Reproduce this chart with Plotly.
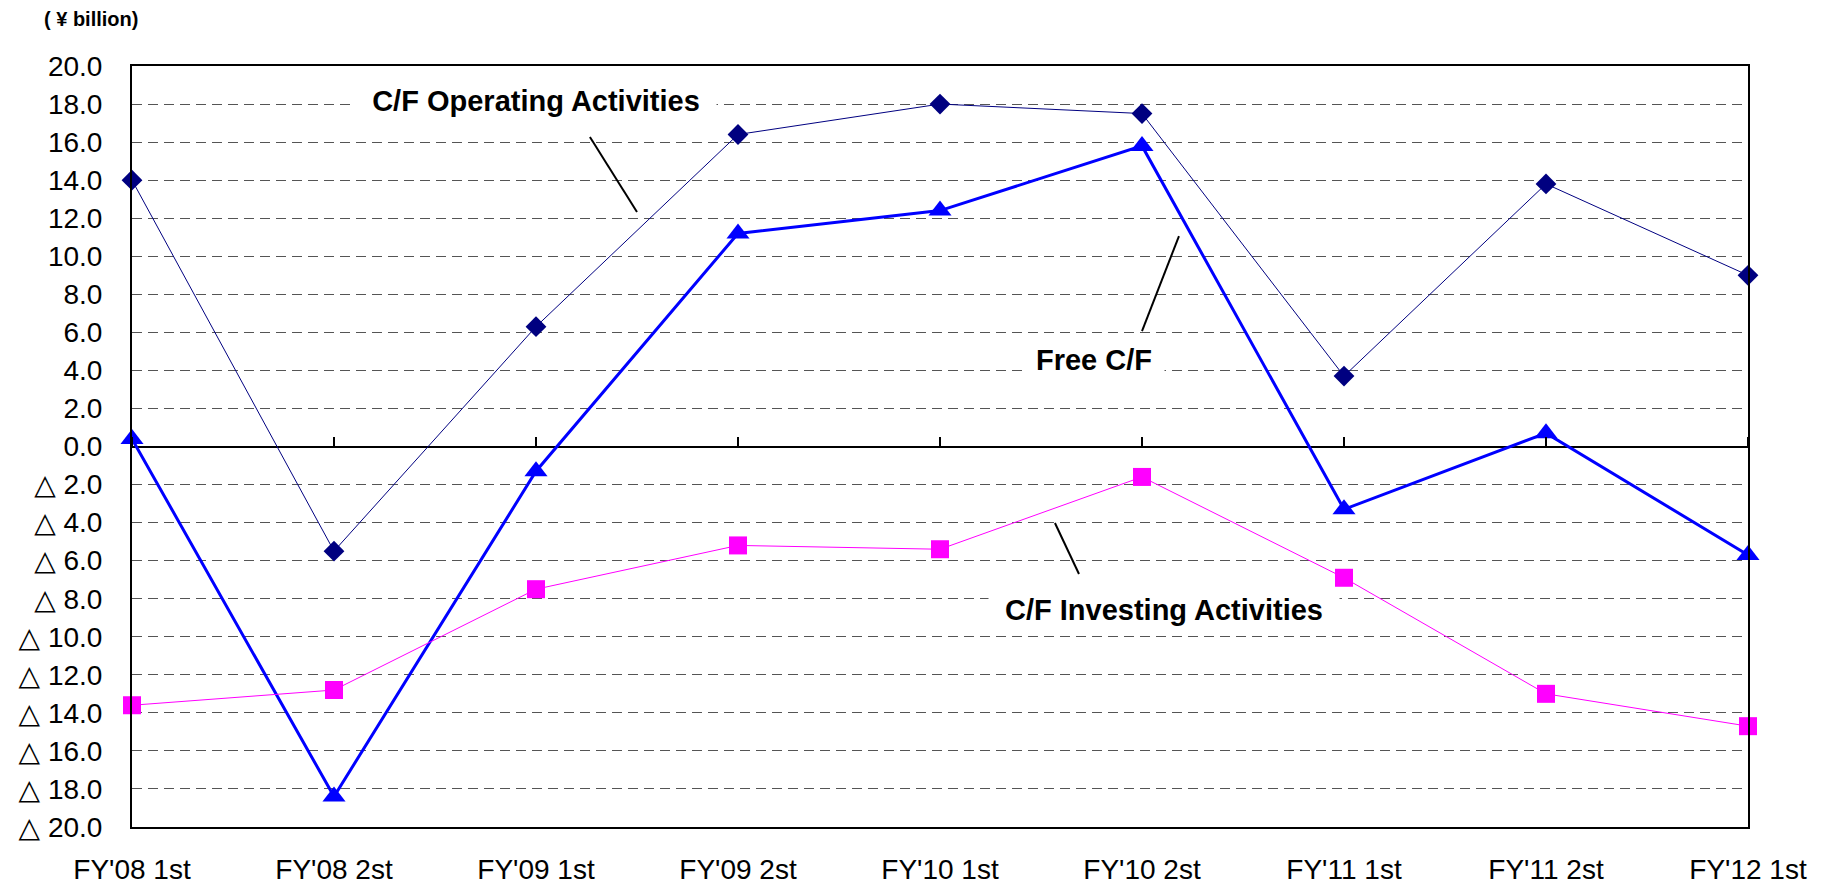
import plotly.graph_objects as go

categories = ["FY'08 1st", "FY'08 2st", "FY'09 1st", "FY'09 2st", "FY'10 1st",
              "FY'10 2st", "FY'11 1st", "FY'11 2st", "FY'12 1st"]
operating = [14.0, -5.5, 6.3, 16.4, 18.0, 17.5, 3.7, 13.8, 9.0]
investing = [-13.6, -12.8, -7.5, -5.2, -5.4, -1.6, -6.9, -13.0, -14.7]
free_cf = [0.4, -18.4, -1.3, 11.2, 12.4, 15.8, -3.3, 0.7, -5.7]

y_tick_values = [-20, -18, -16, -14, -12, -10, -8, -6, -4, -2, 0,
                 2, 4, 6, 8, 10, 12, 14, 16, 18, 20]
y_tick_labels = ["△ 20.0", "△ 18.0", "△ 16.0", "△ 14.0", "△ 12.0", "△ 10.0",
                 "△ 8.0", "△ 6.0", "△ 4.0", "△ 2.0", "0.0",
                 "2.0", "4.0", "6.0", "8.0", "10.0", "12.0", "14.0", "16.0", "18.0", "20.0"]

FONT = "Liberation Sans, Arial, DejaVu Sans, sans-serif"

fig = go.Figure()
fig.add_trace(go.Scatter(
    x=categories, y=investing, mode="lines+markers", xaxis="x2",
    line=dict(color="#FF00FF", width=1),
    marker=dict(symbol="square", size=18, color="#FF00FF"),
    cliponaxis=False, showlegend=False, name="C/F Investing Activities"))
fig.add_trace(go.Scatter(
    x=categories, y=operating, mode="lines+markers",
    line=dict(color="#000080", width=1),
    marker=dict(symbol="diamond", size=16, color="#000080"),
    cliponaxis=False, showlegend=False, name="C/F Operating Activities"))
fig.add_trace(go.Scatter(
    x=categories, y=free_cf, mode="lines+markers",
    line=dict(color="#0000FF", width=3),
    marker=dict(symbol="triangle-up", size=20, color="#0000FF"),
    cliponaxis=False, showlegend=False, name="Free C/F"))

ann_font = dict(family=FONT, size=29, color="black")
fig.update_layout(
    width=1827, height=885,
    margin=dict(l=132, r=79, t=66, b=58),
    paper_bgcolor="white", plot_bgcolor="white",
    font=dict(family=FONT, color="black"),
    xaxis=dict(type="category", range=[0, 8], showline=True, linecolor="black",
               linewidth=2, mirror=True, ticks="", showgrid=False, zeroline=False,
               tickfont=dict(size=28, family=FONT, color="black"),
               ticklabelstandoff=16, automargin=False),
    xaxis2=dict(type="category", range=[0, 8], overlaying="x", anchor="free",
                position=0.5, side="top", ticks="outside", ticklen=10, tickwidth=2,
                tickcolor="black", showticklabels=False, showline=False,
                showgrid=False, zeroline=False, automargin=False),
    yaxis=dict(range=[-20, 20], tickvals=y_tick_values, ticktext=y_tick_labels,
               showgrid=True, gridcolor="#555555", gridwidth=1, griddash="10px,6px",
               zeroline=True, zerolinecolor="black", zerolinewidth=2,
               showline=True, linecolor="black", linewidth=2, mirror=True,
               ticks="", tickfont=dict(size=28, family=FONT, color="black"),
               ticklabelstandoff=22, automargin=False),
    annotations=[
        dict(text="<b>( ¥ billion)</b>", xref="paper", yref="paper",
             x=-0.0255, y=1.062, xanchor="center", yanchor="middle",
             showarrow=False, font=dict(family=FONT, size=20, color="black")),
        dict(text="<b>C/F Operating Activities</b>", xref="x", yref="y",
             x=2.0, y=18.16, xanchor="center", yanchor="middle", showarrow=False,
             font=ann_font, bgcolor="white", width=360, borderpad=0),
        dict(text="<b>Free C/F</b>", xref="x", yref="y",
             x=4.76, y=4.55, xanchor="center", yanchor="middle", showarrow=False,
             font=ann_font, bgcolor="white", width=140, borderpad=0),
        dict(text="<b>C/F Investing Activities</b>", xref="x", yref="y",
             x=5.11, y=-8.59, xanchor="center", yanchor="middle", showarrow=False,
             font=ann_font, bgcolor="white", width=350, borderpad=0),
    ],
    shapes=[
        dict(type="line", xref="x", yref="y", x0=2.267, y0=16.27, x1=2.5, y1=12.33,
             line=dict(color="black", width=2)),
        dict(type="line", xref="x", yref="y", x0=5.183, y0=11.06, x1=5.0, y1=6.07,
             line=dict(color="black", width=2)),
        dict(type="line", xref="x", yref="y", x0=4.569, y0=-4.02, x1=4.688, y1=-6.70,
             line=dict(color="black", width=2)),
    ],
)

fig.write_html("out.html", config={"displayModeBar": False},
               post_script="document.body.style.margin='0';document.body.style.overflow='hidden';")
